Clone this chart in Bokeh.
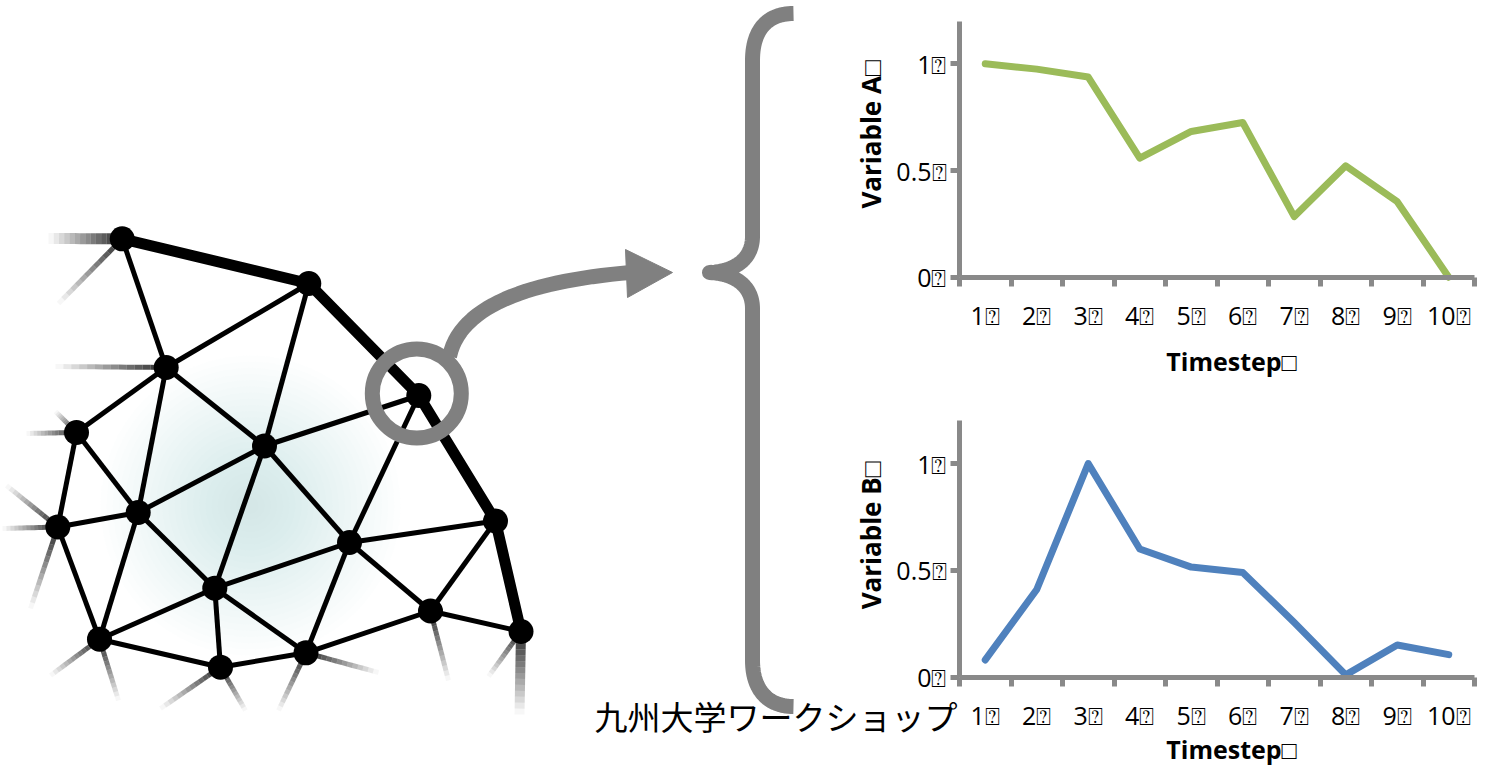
import numpy as np
from bokeh.plotting import figure
from bokeh.models import Range1d, LinearAxis, FixedTicker
from bokeh.core.properties import value
from bokeh.embed import file_html
from bokeh.resources import INLINE

# ---------------- data ----------------
timesteps = [1, 2, 3, 4, 5, 6, 7, 8, 9, 10]
x_tick_labels = ["1⍰", "2⍰", "3⍰", "4⍰", "5⍰", "6⍰", "7⍰", "8⍰", "9⍰", "10⍰"]
variable_a = [1.0, 0.975, 0.938, 0.558, 0.683, 0.725, 0.284, 0.522, 0.354, 0.0]
variable_b = [0.08, 0.41, 1.0, 0.60, 0.515, 0.49, 0.255, 0.01, 0.15, 0.105]
y_ticks = [0, 0.5, 1]
y_tick_labels = ["0⍰", "0.5⍰", "1⍰"]
x_title = "Timestep□"
y_title_a = "Variable A□"
y_title_b = "Variable B□"
caption = "九州大学ワークショップ"

# mesh illustration (drawn in page pixel coordinates)
node_names = ["A", "B", "C", "D", "E", "F", "G", "H", "I", "J", "K", "L", "M", "N", "O", "P"]
node_x = [121.7, 308.3, 165.7, 418.3, 76, 264, 57.3, 137.7, 495, 349, 214.3, 430, 520.5, 99, 220, 305.5]
node_y = [238.3, 283, 367, 395, 432, 445.5, 526.5, 512, 520.5, 542, 587.7, 610.5, 631, 638.7, 666.7, 652.3]
thin_edges = [("A", "C"), ("B", "C"), ("B", "F"), ("C", "F"), ("C", "E"), ("C", "H"), ("E", "H"),
              ("E", "G"), ("G", "H"), ("H", "F"), ("F", "D"), ("F", "J"), ("F", "K"), ("H", "K"),
              ("H", "N"), ("G", "N"), ("N", "K"), ("N", "O"), ("K", "O"), ("K", "P"), ("K", "J"),
              ("O", "P"), ("J", "P"), ("J", "D"), ("J", "I"), ("J", "L"), ("P", "L"), ("L", "I"),
              ("L", "M")]
thick_edges = [("A", "B"), ("B", "D"), ("D", "I"), ("I", "M")]
fade_node = ["A", "A", "C", "E", "E", "G", "G", "G", "N", "N", "O", "O", "P", "P", "L", "M", "M"]
fade_end_x = [48, 58, 55, 55, 26, 6, 2, 30, 50, 118, 160, 245, 278, 378, 448, 488, 519]
fade_end_y = [238, 303, 366, 411, 433, 485, 528, 608, 675, 700, 708, 710, 710, 672, 680, 676, 714]
fade_width = [11, 5, 5, 5, 5, 5, 5, 5, 5, 5, 5, 5, 5, 5, 5, 5, 10]

GRAY = "#808080"
AXIS_GRAY = "#898989"
GREEN = "#9bbb59"
BLUE = "#4f81bd"

W, H = 1481, 767
X0, X1 = 0, W      # page pixel span of the frame
Y0, Y1 = 0, H

p = figure(width=W, height=H, x_range=Range1d(X0, X1), y_range=Range1d(Y1, Y0),
           x_axis_type=None, y_axis_type=None, toolbar_location=None,
           output_backend="svg", min_border=0, title=None)
p.outline_line_color = None
p.background_fill_color = "white"
p.border_fill_color = "white"


def lin_range(p_lo, p_hi, v_a, px_a, v_b, px_b):
    k = (px_b - px_a) / (v_b - v_a)
    return v_a + (p_lo - px_a) / k, v_a + (p_hi - px_a) / k


cx = lin_range(X0, X1, 0.5, 959, 10.5, 1474)
ay = lin_range(Y1, Y0, 0, 276.7, 1, 63.3)
by = lin_range(Y1, Y0, 0, 676.5, 1, 463.1)
p.extra_x_ranges = {"cx": Range1d(*cx)}
p.extra_y_ranges = {"ay": Range1d(*ay), "by": Range1d(*by)}

# ---------------- mesh ----------------
pos = {n: (x, y) for n, x, y in zip(node_names, node_x, node_y)}

# soft glow
gx, gy = 250, 505
for r in np.linspace(8, 150, 24):
    p.circle(x=[gx], y=[gy], radius=r, fill_color="#a9d8dc", fill_alpha=0.026, line_color=None)

# fading edges
sx0, sy0, sx1, sy1, sa, sw = [], [], [], [], [], []
nseg = 14
for n, ex, ey, w in zip(fade_node, fade_end_x, fade_end_y, fade_width):
    x0, y0 = pos[n]
    for i in range(nseg):
        t0, t1 = i / nseg, (i + 1) / nseg
        sx0.append(x0 + (ex - x0) * t0)
        sy0.append(y0 + (ey - y0) * t0)
        sx1.append(x0 + (ex - x0) * t1)
        sy1.append(y0 + (ey - y0) * t1)
        sa.append(0.85 * (1 - (t0 + t1) / 2))
        sw.append(w)
p.segment(x0=sx0, y0=sy0, x1=sx1, y1=sy1, line_color="black", line_alpha=sa, line_width=sw)

p.segment(x0=[pos[a][0] for a, b in thin_edges], y0=[pos[a][1] for a, b in thin_edges],
          x1=[pos[b][0] for a, b in thin_edges], y1=[pos[b][1] for a, b in thin_edges],
          line_color="black", line_width=5)
p.segment(x0=[pos[a][0] for a, b in thick_edges], y0=[pos[a][1] for a, b in thick_edges],
          x1=[pos[b][0] for a, b in thick_edges], y1=[pos[b][1] for a, b in thick_edges],
          line_color="black", line_width=11, line_cap="round")
p.circle(x=node_x, y=node_y, radius=12.5, fill_color="black", line_color=None)

# highlight ring and curved arrow
p.circle(x=[pos["D"][0] - 2], y=[pos["D"][1] - 2], radius=44.5, fill_color=None,
         line_color=GRAY, line_width=15)


def bez(p0, c0, c1, p1, n=30):
    t = np.linspace(0, 1, n)[:, None]
    pts = ((1 - t) ** 3) * np.array(p0) + 3 * ((1 - t) ** 2) * t * np.array(c0) \
        + 3 * (1 - t) * t ** 2 * np.array(c1) + t ** 3 * np.array(p1)
    return pts


arrow = bez((449, 356), (460, 303), (535, 280), (630, 272))
p.line(x=arrow[:, 0], y=arrow[:, 1], line_color=GRAY, line_width=15)
p.patch(x=[625, 672, 627], y=[249, 272, 297], fill_color=GRAY, line_color=GRAY)

# curly brace
brace = np.vstack([
    bez((793, 13), (768, 13), (752, 28), (752, 60)),
    bez((752, 236), (752, 258), (735, 271), (709, 272)),
    bez((709, 272), (735, 273), (752, 286), (752, 308)),
    bez((752, 660), (752, 690), (768, 706), (793, 706)),
])
p.line(x=brace[:, 0], y=brace[:, 1], line_color=GRAY, line_width=15,
       line_join="round", line_cap="butt")

# ---------------- charts ----------------
for yr, vals, color in [("ay", variable_a, GREEN), ("by", variable_b, BLUE)]:
    p.line(x=timesteps, y=vals, x_range_name="cx", y_range_name=yr, line_color=color,
           line_width=7, line_join="round", line_cap="round")

    xa = LinearAxis(x_range_name="cx", y_range_name=yr, fixed_location=0,
                    ticker=FixedTicker(ticks=timesteps,
                                       minor_ticks=[t - 0.5 for t in timesteps] + [timesteps[-1] + 0.5]),
                    major_label_overrides={t: s for t, s in zip(timesteps, x_tick_labels)},
                    bounds=(0.5, 10.5))
    xa.axis_line_color = AXIS_GRAY
    xa.axis_line_width = 5
    xa.major_tick_out = 0
    xa.major_tick_in = 0
    xa.minor_tick_out = 9
    xa.minor_tick_in = 0
    xa.minor_tick_line_color = AXIS_GRAY
    xa.minor_tick_line_width = 5
    xa.major_label_standoff = 12
    xa.major_label_text_font = "Open Sans"
    xa.major_label_text_font_size = "25px"
    xa.major_label_text_color = "black"
    p.add_layout(xa, "below")

    ya = LinearAxis(x_range_name="cx", y_range_name=yr, fixed_location=0.5,
                    ticker=FixedTicker(ticks=y_ticks),
                    major_label_overrides={t: s for t, s in zip(y_ticks, y_tick_labels)},
                    bounds=(0, 1.2))
    ya.axis_line_color = AXIS_GRAY
    ya.axis_line_width = 5
    ya.major_tick_out = 9
    ya.major_tick_in = 0
    ya.major_tick_line_color = AXIS_GRAY
    ya.major_tick_line_width = 5
    ya.minor_tick_out = 0
    ya.minor_tick_in = 0
    ya.major_label_standoff = 4
    ya.major_label_text_font = "Open Sans"
    ya.major_label_text_font_size = "25px"
    ya.major_label_text_color = "black"
    p.add_layout(ya, "left")

# axis titles
p.text(x=[1231, 1231], y=[360, 748], text=[x_title, x_title], text_align="center",
       text_baseline="middle", text_font=value("Open Sans"), text_font_style="bold",
       text_font_size="25px", text_color="black")
p.text(x=[870, 870], y=[134, 535], text=[y_title_a, y_title_b], angle=np.pi / 2,
       text_align="center", text_baseline="middle", text_font=value("Open Sans"),
       text_font_style="bold", text_font_size="26px", text_color="black")

# caption
p.text(x=[594], y=[715], text=[caption], text_align="left", text_baseline="middle",
       text_font=value("Noto Sans CJK JP"), text_font_size="33px", text_color="black")

open("out.html", "w").write(file_html(p, INLINE))
